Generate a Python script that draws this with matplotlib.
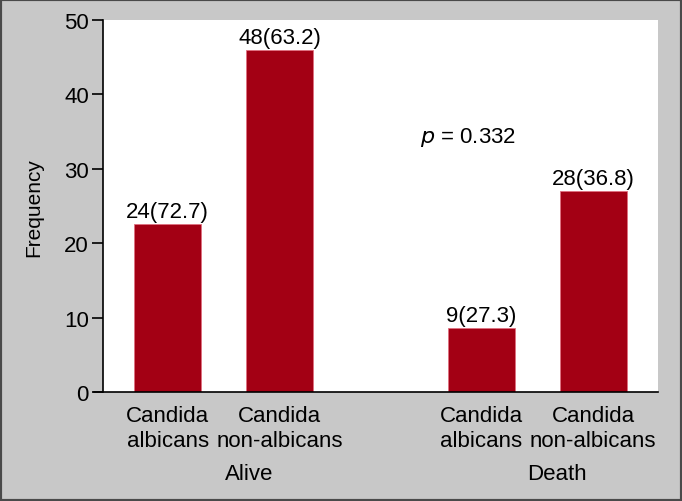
import matplotlib.pyplot as plt
from matplotlib.patches import Rectangle

# data
categories = ["Candida\nalbicans", "Candida\nnon-albicans", "Candida\nalbicans", "Candida\nnon-albicans"]
heights = [22.6, 46.0, 8.6, 27.0]
labels = ["24(72.7)", "48(63.2)", "9(27.3)", "28(36.8)"]
groups = ["Alive", "Death"]
yticks = [0, 10, 20, 30, 40, 50]

plt.rcParams['font.family'] = ['Liberation Sans', 'DejaVu Sans']
plt.rcParams['font.size'] = 16

fig = plt.figure(figsize=(6.82, 5.02), dpi=100)
fig.patch.set_facecolor('#c8c8c8')
fig.patches.append(Rectangle((0, 0), 1, 1, transform=fig.transFigure,
                             fill=False, edgecolor='#4a4a4a', linewidth=3))

ax = fig.add_axes([0.1506, 0.217, 0.8144, 0.741])
ax.set_facecolor('white')

xpos = [0, 1, 2.8, 3.8]
ax.bar(xpos, heights, width=0.6, color='#a30014', edgecolor='#e07080', linewidth=0.6)

for x, h, t in zip(xpos, heights, labels):
    ax.annotate(t, (x, h), xytext=(0, 1.5), textcoords='offset points',
                ha='center', va='bottom')

ax.text(2.68, 34.4, r"$p$ = 0.332", ha='center', va='center')

ax.set_xlim(-0.58, 4.38)
ax.set_ylim(0, 50)
ax.set_yticks(yticks)
ax.set_xticks(xpos)
ax.set_xticklabels(categories, linespacing=1.25)
ax.tick_params(axis='x', length=0, pad=9)
ax.tick_params(axis='y', length=8, width=1.2, pad=2, direction='out')

# group labels under the categories
for gx, g in zip([0.725, 3.48], groups):
    ax.text(gx, -10.9, g, ha='center', va='center')

ax.set_ylabel("Frequency", labelpad=15, fontsize=15)
ax.spines['top'].set_visible(False)
ax.spines['right'].set_visible(False)
ax.spines['left'].set_linewidth(1.2)
ax.spines['bottom'].set_linewidth(1.2)
ax.spines['bottom'].set_bounds(-0.66, 4.38)
ax.spines['bottom'].set_clip_on(False)

fig.savefig("out.png", dpi=100, facecolor=fig.get_facecolor())
